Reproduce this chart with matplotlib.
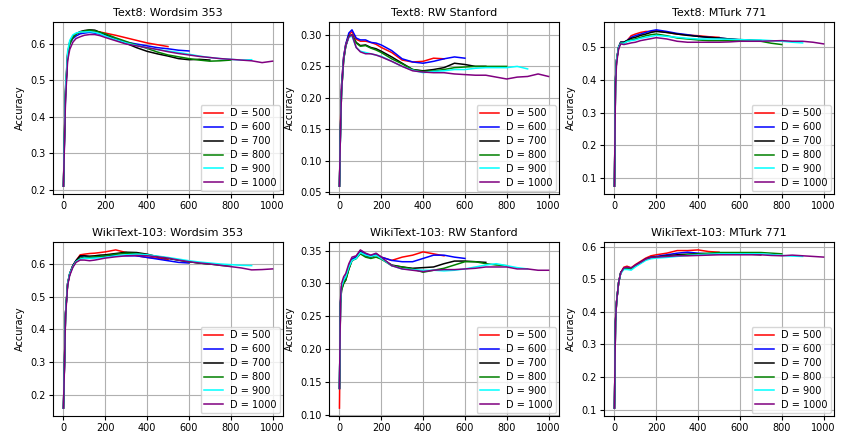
import matplotlib
matplotlib.use("Agg")
import matplotlib.pyplot as plt

# shared x grid (iteration index); each series of dimension D stops at x = D
X = [0, 5, 10, 20, 30, 45, 60, 80, 100, 125, 150, 175, 200, 250, 300, 350, 400,
     450, 500, 550, 600, 650, 700, 750, 800, 850, 900, 950, 1000]

dims = [500, 600, 700, 800, 900, 1000]
labels = ["D = %d" % d for d in dims]
colors = ["red", "blue", "black", "green", "cyan", "purple"]

titles = ["Text8: Wordsim 353", "Text8: RW Stanford", "Text8: MTurk 771",
          "WikiText-103: Wordsim 353", "WikiText-103: RW Stanford", "WikiText-103: MTurk 771"]

text8_ws = [
    [0.21,0.36,0.48,0.575,0.605,0.62,0.628,0.632,0.634,0.636,0.635,0.633,0.630,0.624,0.617,0.610,0.603,0.598,0.593],
    [0.21,0.34,0.46,0.565,0.600,0.615,0.622,0.628,0.630,0.632,0.630,0.627,0.623,0.613,0.605,0.600,0.595,0.590,0.587,0.583,0.581],
    [0.21,0.35,0.47,0.570,0.605,0.620,0.628,0.634,0.637,0.639,0.638,0.632,0.626,0.613,0.602,0.590,0.580,0.573,0.567,0.560,0.557,0.558,0.556],
    [0.21,0.35,0.47,0.570,0.600,0.618,0.627,0.633,0.636,0.638,0.636,0.632,0.628,0.617,0.607,0.597,0.588,0.578,0.570,0.565,0.560,0.556,0.553,0.554,0.556],
    [0.21,0.36,0.48,0.580,0.610,0.625,0.630,0.633,0.633,0.634,0.632,0.628,0.622,0.612,0.603,0.596,0.590,0.585,0.581,0.577,0.572,0.567,0.563,0.560,0.558,0.556,0.557],
    [0.21,0.33,0.45,0.555,0.585,0.605,0.615,0.620,0.624,0.626,0.626,0.623,0.618,0.609,0.600,0.595,0.590,0.585,0.579,0.574,0.570,0.566,0.563,0.560,0.558,0.556,0.554,0.549,0.553],
]

text8_rw = [
    [0.06,0.16,0.22,0.265,0.285,0.300,0.305,0.293,0.290,0.290,0.288,0.285,0.280,0.272,0.260,0.257,0.258,0.263,0.262],
    [0.06,0.15,0.22,0.265,0.285,0.303,0.308,0.295,0.292,0.292,0.288,0.287,0.284,0.275,0.262,0.257,0.255,0.258,0.262,0.265,0.263],
    [0.06,0.15,0.21,0.260,0.282,0.298,0.300,0.288,0.283,0.284,0.280,0.278,0.274,0.265,0.255,0.245,0.243,0.245,0.248,0.255,0.253,0.250,0.250],
    [0.06,0.15,0.21,0.260,0.282,0.298,0.300,0.287,0.282,0.283,0.279,0.276,0.272,0.262,0.254,0.245,0.242,0.243,0.245,0.248,0.249,0.250,0.250,0.250,0.250],
    [0.06,0.15,0.21,0.262,0.283,0.296,0.298,0.280,0.274,0.272,0.270,0.268,0.266,0.258,0.250,0.244,0.240,0.242,0.243,0.245,0.245,0.247,0.248,0.248,0.248,0.250,0.246],
    [0.06,0.15,0.21,0.262,0.283,0.297,0.300,0.280,0.273,0.270,0.270,0.268,0.265,0.258,0.250,0.243,0.241,0.240,0.240,0.238,0.237,0.236,0.236,0.233,0.230,0.233,0.234,0.238,0.234],
]

text8_mt = [
    [0.075,0.40,0.46,0.50,0.515,0.515,0.52,0.535,0.540,0.545,0.548,0.548,0.550,0.545,0.540,0.537,0.535,0.532,0.530],
    [0.075,0.40,0.46,0.50,0.515,0.515,0.52,0.530,0.535,0.540,0.545,0.550,0.553,0.548,0.542,0.538,0.533,0.530,0.528,0.525,0.522],
    [0.075,0.40,0.46,0.50,0.515,0.515,0.52,0.527,0.530,0.536,0.540,0.545,0.548,0.545,0.540,0.536,0.533,0.530,0.528,0.525,0.523,0.522,0.520],
    [0.075,0.40,0.46,0.50,0.512,0.512,0.518,0.522,0.525,0.530,0.535,0.538,0.540,0.535,0.528,0.525,0.522,0.520,0.520,0.520,0.520,0.519,0.518,0.512,0.508],
    [0.075,0.40,0.46,0.50,0.512,0.512,0.517,0.520,0.522,0.527,0.530,0.533,0.536,0.533,0.530,0.527,0.525,0.525,0.525,0.524,0.523,0.522,0.522,0.520,0.518,0.515,0.513],
    [0.075,0.38,0.45,0.495,0.510,0.508,0.510,0.513,0.515,0.520,0.523,0.526,0.529,0.525,0.518,0.515,0.515,0.515,0.515,0.516,0.518,0.518,0.518,0.519,0.520,0.518,0.518,0.515,0.510],
]

wiki_ws = [
    [0.16,0.30,0.45,0.54,0.57,0.595,0.61,0.628,0.630,0.632,0.633,0.635,0.637,0.643,0.635,0.625,0.620,0.618,0.613],
    [0.16,0.30,0.45,0.54,0.57,0.595,0.61,0.623,0.625,0.620,0.620,0.622,0.625,0.627,0.625,0.625,0.620,0.615,0.610,0.605,0.603],
    [0.16,0.30,0.45,0.54,0.57,0.595,0.61,0.625,0.625,0.624,0.625,0.627,0.628,0.632,0.636,0.635,0.630,0.622,0.617,0.612,0.607,0.603,0.600],
    [0.16,0.30,0.45,0.54,0.57,0.592,0.607,0.618,0.620,0.620,0.622,0.623,0.625,0.630,0.633,0.632,0.628,0.623,0.618,0.612,0.607,0.603,0.600,0.596,0.593],
    [0.16,0.30,0.45,0.54,0.57,0.592,0.607,0.615,0.618,0.617,0.618,0.619,0.620,0.625,0.628,0.630,0.628,0.624,0.620,0.615,0.610,0.606,0.603,0.600,0.598,0.596,0.595],
    [0.16,0.29,0.44,0.535,0.565,0.590,0.605,0.612,0.612,0.610,0.612,0.615,0.618,0.622,0.625,0.626,0.625,0.622,0.618,0.612,0.607,0.603,0.600,0.596,0.592,0.588,0.582,0.583,0.585],
]

wiki_rw = [
    [0.11,0.27,0.295,0.305,0.31,0.325,0.337,0.340,0.350,0.345,0.342,0.345,0.340,0.335,0.340,0.343,0.348,0.345,0.342],
    [0.14,0.27,0.295,0.305,0.31,0.325,0.337,0.340,0.350,0.345,0.342,0.345,0.340,0.335,0.333,0.333,0.338,0.343,0.343,0.340,0.338],
    [0.14,0.27,0.29,0.30,0.305,0.322,0.335,0.338,0.348,0.342,0.340,0.343,0.338,0.328,0.325,0.323,0.324,0.325,0.330,0.334,0.334,0.333,0.332],
    [0.14,0.27,0.29,0.30,0.305,0.322,0.335,0.338,0.345,0.340,0.338,0.340,0.337,0.327,0.325,0.322,0.317,0.320,0.323,0.328,0.333,0.333,0.330,0.328,0.327],
    [0.14,0.27,0.295,0.305,0.31,0.325,0.335,0.338,0.347,0.343,0.341,0.343,0.338,0.327,0.322,0.321,0.320,0.320,0.319,0.320,0.322,0.325,0.328,0.330,0.327,0.324,0.322],
    [0.14,0.275,0.30,0.31,0.315,0.33,0.340,0.342,0.351,0.346,0.343,0.346,0.340,0.327,0.322,0.320,0.318,0.320,0.321,0.321,0.322,0.323,0.325,0.325,0.325,0.322,0.322,0.320,0.320],
]

wiki_mt = [
    [0.105,0.37,0.43,0.49,0.52,0.537,0.540,0.535,0.545,0.555,0.565,0.572,0.575,0.580,0.588,0.588,0.590,0.585,0.583],
    [0.105,0.37,0.43,0.49,0.52,0.533,0.535,0.532,0.542,0.552,0.562,0.568,0.570,0.575,0.580,0.583,0.580,0.578,0.578,0.578,0.578],
    [0.105,0.37,0.43,0.49,0.52,0.533,0.535,0.532,0.542,0.552,0.562,0.567,0.568,0.572,0.575,0.577,0.578,0.578,0.578,0.578,0.578,0.577,0.575],
    [0.105,0.37,0.43,0.49,0.52,0.533,0.535,0.532,0.540,0.550,0.560,0.566,0.568,0.570,0.572,0.575,0.578,0.580,0.582,0.582,0.582,0.582,0.582,0.580,0.578],
    [0.105,0.37,0.43,0.49,0.518,0.530,0.530,0.528,0.538,0.548,0.558,0.563,0.565,0.567,0.570,0.573,0.575,0.577,0.578,0.578,0.578,0.578,0.578,0.576,0.573,0.571,0.570],
    [0.105,0.37,0.43,0.49,0.52,0.535,0.537,0.535,0.543,0.552,0.562,0.567,0.568,0.570,0.572,0.572,0.573,0.574,0.575,0.575,0.575,0.575,0.575,0.573,0.572,0.574,0.572,0.570,0.568],
]

panels = [text8_ws, text8_rw, text8_mt, wiki_ws, wiki_rw, wiki_mt]

W, H = 843, 436
fig = plt.figure(figsize=(W / 100, H / 100), dpi=100)

lefts = [53, 329, 604]
rows = [(22, 194), (242, 416)]
axw = 230

for i, data in enumerate(panels):
    r, c = divmod(i, 3)
    top, bot = rows[r]
    ax = fig.add_axes([lefts[c] / W, 1 - bot / H, axw / W, (bot - top) / H])
    for vals, col, lab in zip(data, colors, labels):
        ax.plot(X[:len(vals)], vals, color=col, lw=1.1, label=lab)
    ax.set_title(titles[i], fontsize=8, pad=4)
    ax.set_ylabel("Accuracy", fontsize=7)
    ax.set_xticks([0, 200, 400, 600, 800, 1000])
    ax.tick_params(labelsize=7, length=3, pad=2)
    ax.grid(True, color="#b0b0b0", lw=0.8)
    ax.set_axisbelow(True)
    ax.legend(loc="lower right", fontsize=7, borderaxespad=0.3,
              handlelength=2.0, labelspacing=0.4, borderpad=0.35,
              handletextpad=0.7, framealpha=0.8)

fig.savefig("out.png", dpi=100)
